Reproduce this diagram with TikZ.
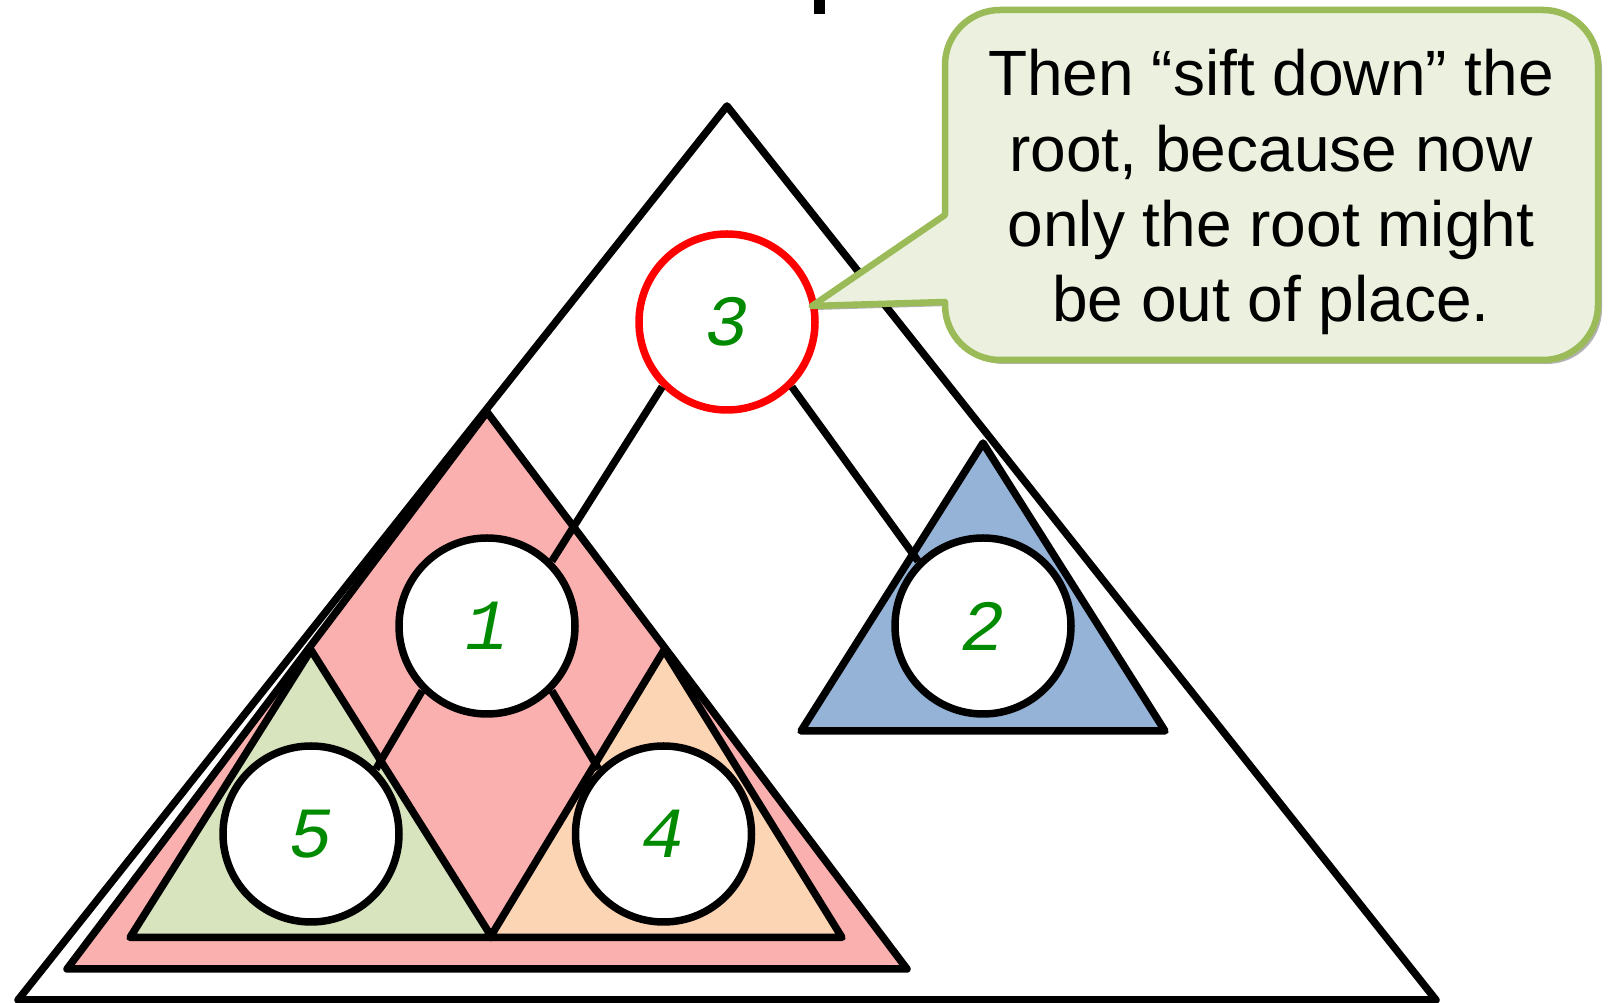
\documentclass[tikz,border=0pt]{standalone}
\usepackage{fontspec}
\setmainfont{Liberation Sans}
\newfontfamily\digitfont{Liberation Mono}
\usetikzlibrary{shadows}
\definecolor{pinkfill}{HTML}{FBB0B0}
\definecolor{greenfill}{HTML}{D7E4BD}
\definecolor{orangefill}{HTML}{FCD5B5}
\definecolor{bluefill}{HTML}{95B3D7}
\definecolor{calloutfill}{HTML}{EBF1DE}
\definecolor{calloutline}{HTML}{9BBB59}
\definecolor{digitgreen}{HTML}{008A00}
\definecolor{rootred}{HTML}{FF0000}
\begin{document}
\begin{tikzpicture}[x=1pt,y=1pt,
  tri/.style={draw=black,line width=7.5pt,line join=round},
  vertex/.style={circle,draw=black,line width=7.5pt,fill=white,minimum size=176pt,inner sep=0pt,
    font=\digitfont\fontsize{72pt}{72pt}\selectfont\itshape,text=digitgreen},
  edge/.style={draw=black,line width=7.5pt},
  callout/.style={draw=calloutline,fill=calloutfill,line width=6.5pt,line join=round,
    drop shadow={shadow xshift=4pt,shadow yshift=-4pt,opacity=0.3,fill=black}},
  notetext/.style={font=\fontsize{64pt}{75.3pt}\selectfont,align=center,text=black}]
\useasboundingbox (0,0) rectangle (1612,1003);
\fill[white] (0,0) rectangle (1612,1003);

% subtrees
\draw[tri,fill=white] (727,897) -- (18,3) -- (1436,3) -- cycle;
\draw[tri,fill=pinkfill] (487,591) -- (67,34) -- (907,34) -- cycle;
\draw[tri,fill=greenfill] (311,353) -- (130,65.5) -- (492,65.5) -- cycle;
\draw[tri,fill=orangefill] (664,353) -- (490,65.5) -- (842,65.5) -- cycle;
\draw[tri,fill=bluefill] (983,560) -- (801,272) -- (1165,272) -- cycle;

% nodes
\node[vertex,draw=rootred] (c3) at (727,681) {3};
\node[vertex] (c1) at (487,377) {1};
\node[vertex] (c2) at (983,377) {2};
\node[vertex] (c5) at (311,169) {5};
\node[vertex] (c4) at (663.5,169) {4};

% edges
\draw[edge] (c3.south west) -- (c1.north east);
\draw[edge] (c3.south east) -- (c2.north west);
\draw[edge] (c1.south west) -- (c5.north east);
\draw[edge] (c1.south east) -- (c4.north west);

% callout
\path[callout] (945,701) -- (812,697) -- (945,788) -- (945,938)
  arc[start angle=180,end angle=90,radius=55] -- (1543,993)
  arc[start angle=90,end angle=0,radius=55] -- (1598,698)
  arc[start angle=0,end angle=-90,radius=55] -- (1000,643)
  arc[start angle=270,end angle=180,radius=55] -- cycle;
\node[notetext] (note) at (1271,810.6) {Then “sift down” the\\root, because now\\only the root might\\be out of place.};

% cropped stroke at the top edge
\fill[black] (814,989) rectangle (825,1003);
\end{tikzpicture}
\end{document}
